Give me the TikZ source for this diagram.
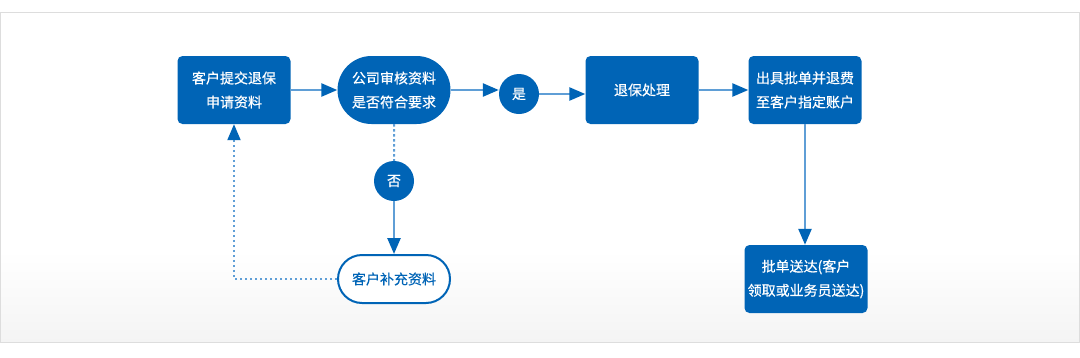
\documentclass[tikz,border=0pt]{standalone}
\usepackage{fontspec}
\setmainfont{Noto Sans CJK SC}
\newfontfamily\flowfont[FakeBold=0.5]{Noto Sans CJK SC}
\usetikzlibrary{arrows.meta, shapes.misc}

\begin{document}
\begin{tikzpicture}[x=1pt, y=-1pt, >=Stealth]
  % 定义颜色
  \definecolor{flowblue}{RGB}{0,100,182}
  \definecolor{linkblue}{RGB}{95,158,214}
  \definecolor{framegray}{RGB}{221,221,221}
  \definecolor{fadegray}{RGB}{244,244,244}
  \tikzset{
    box/.style={rectangle, rounded corners=5pt, fill=flowblue, text=white,
      minimum width=113pt, minimum height=68pt, align=center, inner sep=1pt,
      font=\flowfont\fontsize{14}{24}\selectfont},
    pill/.style={rounded rectangle, fill=flowblue, text=white,
      minimum width=115pt, minimum height=68pt, align=center, inner sep=1pt,
      font=\flowfont\fontsize{14}{24}\selectfont},
    yesno/.style={circle, fill=flowblue, text=white, minimum size=40pt,
      inner sep=0pt, font=\flowfont\fontsize{14}{16}\selectfont},
    link/.style={line width=2.5pt, linkblue,
      -{Triangle[length=16pt, width=13pt, color=flowblue]}},
    dotlink/.style={line width=2pt, linkblue, dash pattern=on 2.5pt off 2.5pt}
  }

  \useasboundingbox (0,0) rectangle (1080,357);

  % 背景框
  \fill[white] (0.5,12.5) rectangle (1079.5,342.5);
  \shade[top color=white, bottom color=fadegray] (0.5,250) rectangle (1079.5,342.5);
  \draw[framegray, line width=1.2pt] (0.6,12.5) rectangle (1079.4,342.5);

  % 第一排 (Top row)
  \node[box] (apply) at (234, 90) {客户提交退保\\申请资料};
  \node[pill] (check) at (394, 90) {公司审核资料\\是否符合要求};
  \node[yesno] (yes) at (519, 94) {是};
  \node[box] (handle) at (642, 90) {退保处理};
  \node[box] (refund) at (805, 90) {出具批单并退费\\至客户指定账户};

  % 第二排 (Bottom row)
  \node[yesno] (no) at (394, 181) {否};
  \node[pill, fill=white, draw=flowblue, line width=2pt, text=flowblue,
    minimum width=114pt, minimum height=48pt] (extra) at (394, 279) {客户补充资料};
  \node[box, minimum width=123pt] (deliver) at (806, 279) {批单送达(客户\\领取或业务员送达)};

  % 连线
  \draw[link] (apply) -- (check);
  \draw[link] (check.east) -- (check.east -| yes.west);
  \draw[link] (yes.east) -- (yes.east -| handle.west);
  \draw[link] (handle) -- (refund);
  \draw[link] (refund.south) -- (refund.south |- deliver.north);
  \draw[dotlink] (check) -- (no);
  \draw[link] (no) -- (extra);
  \draw[dotlink, -{Triangle[length=16pt, width=13pt, color=flowblue]}]
    (extra.west) -| (apply.south);

\end{tikzpicture}
\end{document}
